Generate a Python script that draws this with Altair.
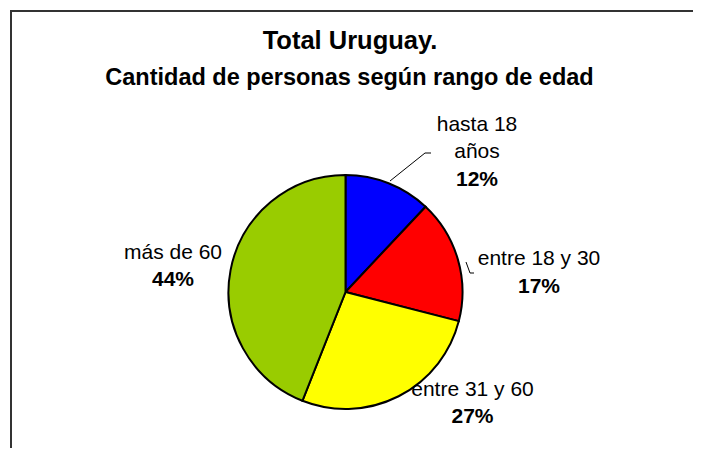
import altair as alt
import pandas as pd

# ---- data ----
categories = ["hasta 18 años", "entre 18 y 30", "entre 31 y 60", "más de 60"]
percentages = [12, 17, 27, 44]
colors = ["#0000FF", "#FF0000", "#FFFF00", "#99CC00"]
name_lines = [["hasta 18", "años"], ["entre 18 y 30"], ["entre 31 y 60"], ["más de 60"]]
title_text = "Total Uruguay."
subtitle_text = "Cantidad de personas según rango de edad"

# ---- layout (label placement, chart pixel coords) ----
W, H = 685, 440
CX, CY, R = 337.5, 284, 117
label_cx = [469, 531, 464.5, 165]
name_y = [[117, 144], [251], [382], [245]]
pct_y = [172, 279, 409, 272]
leaders = [
    [(382, 173), (417, 145), (423, 145)],
    [(458, 254), (462, 265), (466, 265)],
]

FONT = "Liberation Sans"

pie_df = pd.DataFrame({
    "cat": categories,
    "pct": percentages,
    "idx": list(range(len(categories))),
})

pie = alt.Chart(pie_df).mark_arc(
    stroke="black", strokeWidth=2, outerRadius=R
).encode(
    theta=alt.Theta("pct:Q", stack=True),
    order=alt.Order("idx:Q"),
    color=alt.Color("cat:N", scale=alt.Scale(domain=categories, range=colors), legend=None),
    x=alt.value(CX),
    y=alt.value(CY),
)

rows = []
for i, lines in enumerate(name_lines):
    for j, t in enumerate(lines):
        rows.append({"t": t, "x": label_cx[i], "y": name_y[i][j], "w": "normal"})
    rows.append({"t": f"{percentages[i]}%", "x": label_cx[i], "y": pct_y[i], "w": "bold"})
lab_df = pd.DataFrame(rows)

names = alt.Chart(lab_df[lab_df.w == "normal"]).mark_text(
    font=FONT, fontSize=21, color="black", baseline="middle", align="center"
).encode(
    x=alt.X("x:Q", scale=None), y=alt.Y("y:Q", scale=None), text="t:N"
)
pcts = alt.Chart(lab_df[lab_df.w == "bold"]).mark_text(
    font=FONT, fontSize=21, fontWeight="bold", color="black", baseline="middle", align="center"
).encode(
    x=alt.X("x:Q", scale=None), y=alt.Y("y:Q", scale=None), text="t:N"
)

lrows = []
for g, pts in enumerate(leaders):
    for k, (px, py) in enumerate(pts):
        lrows.append({"g": g, "k": k, "x": px, "y": py})
lead = alt.Chart(pd.DataFrame(lrows)).mark_line(color="black", strokeWidth=1).encode(
    x=alt.X("x:Q", scale=None), y=alt.Y("y:Q", scale=None),
    detail="g:N", order="k:Q"
)

title_df = pd.DataFrame({"t": [title_text]})
title = alt.Chart(title_df).mark_text(
    font=FONT, fontSize=25.5, fontWeight="bold", color="black", align="center", baseline="alphabetic"
).encode(text="t:N", x=alt.value(342), y=alt.value(41))
sub = alt.Chart(pd.DataFrame({"t": [subtitle_text]})).mark_text(
    font=FONT, fontSize=23.5, fontWeight="bold", color="black", align="center", baseline="alphabetic"
).encode(text="t:N", x=alt.value(341.5), y=alt.value(77))

frame = alt.Chart(title_df).mark_rect(
    fill="white", stroke="#333333", strokeWidth=2
).encode(
    x=alt.value(3), x2=alt.value(W + 30), y=alt.value(3), y2=alt.value(H + 30)
)

chart = alt.layer(
    frame, pie, lead, names, pcts, title, sub
).properties(
    width=W, height=H, padding=0, autosize="none", background="white"
).configure_view(stroke=None, strokeWidth=0)

chart.save("out.html", embed_options={"renderer": "svg", "actions": False})
